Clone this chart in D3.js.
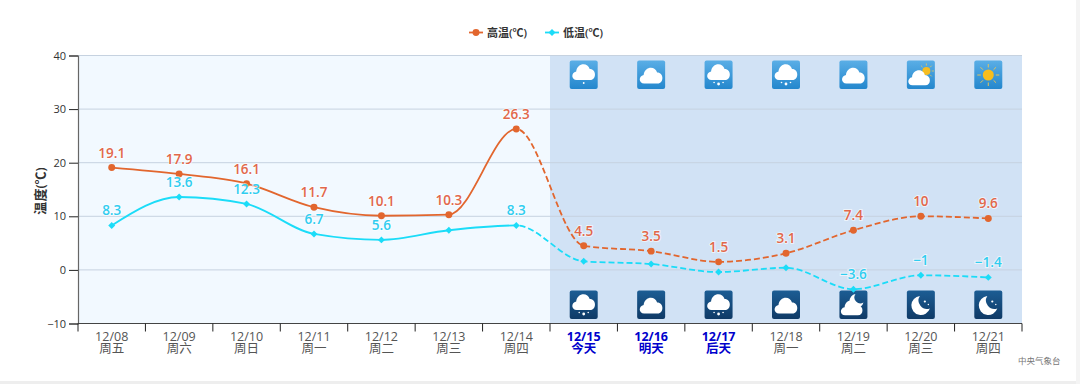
<!DOCTYPE html>
<html><head><meta charset="utf-8">
<script src="https://cdn.jsdelivr.net/npm/d3@7"></script>
<style>
html,body{margin:0;padding:0;background:#fff;overflow:hidden}
svg{display:block}
text{font-family:"Open Sans","Noto Sans CJK SC",sans-serif}
</style></head><body>
<svg id="c" width="1080" height="384"></svg>
<script>
const dates=["12/08","12/09","12/10","12/11","12/12","12/13","12/14","12/15","12/16","12/17","12/18","12/19","12/20","12/21"];
const weekdays=["周五","周六","周日","周一","周二","周三","周四","今天","明天","后天","周一","周二","周三","周四"];
const highs=[19.1,17.9,16.1,11.7,10.1,10.3,26.3,4.5,3.5,1.5,3.1,7.4,10,9.6];
const lows=[8.3,13.6,12.3,6.7,5.6,7.4,8.3,1.6,1.1,-0.4,0.4,-3.6,-1,-1.4];
const lowLabelIdx=[0,1,2,3,4,6,11,12,13];
const yTicks=[-10,0,10,20,30,40];
const dayIcons=["rain","cloud","snow","snow","cloud","partly","sun"];
const nightIcons=["snow","cloud","snow","cloud","partlyNight","moon","moon"];
const highColor="#e2662e", lowColor="#1bdcf8";
const highText="#e2674a", lowText="#30cdf0";

const svg=d3.select("#c");
const L=78,R=1022,T=55.5,B=323.5;
const y=d3.scaleLinear().domain([-10,40]).range([B,T]);
const xb=d3.scaleBand().domain(dates).range([L,R]);
const cx=d=>xb(d)+xb.bandwidth()/2;
const splitX=xb(dates[7]);

svg.append("rect").attr("x",0).attr("y",381).attr("width",1080).attr("height",3).attr("fill","#eeeeee");
svg.append("rect").attr("x",1076).attr("y",0).attr("width",4).attr("height",384).attr("fill","#f4f4f4");

svg.append("rect").attr("x",L).attr("y",T).attr("width",splitX-L).attr("height",B-T).attr("fill","#f2f9ff");
svg.append("rect").attr("x",splitX).attr("y",T).attr("width",R-splitX).attr("height",B-T).attr("fill","#d1e2f5");

svg.append("g").selectAll("line").data(yTicks.filter(t=>t>-10)).join("line")
 .attr("x1",L).attr("x2",R).attr("y1",d=>y(d)).attr("y2",d=>y(d))
 .attr("stroke","#c6d2e0").attr("stroke-width",1);

const gy=svg.append("g").attr("transform",`translate(${L},0)`)
 .call(d3.axisLeft(y).tickValues(yTicks).tickSize(9).tickPadding(3).tickFormat(d3.format("d")));
gy.select(".domain").attr("stroke","#666").attr("stroke-width",1.2);
gy.selectAll(".tick line").attr("stroke","#222");
gy.selectAll("text").attr("font-size",11).attr("fill","#333").style("font-family",'"Open Sans",sans-serif');

svg.append("text").attr("transform","translate(45,191) rotate(-90)").attr("text-anchor","middle")
 .attr("font-size",13).attr("font-weight",600).attr("fill","#333").text("温度(℃)");

const gx=svg.append("g").attr("transform",`translate(0,${B})`)
 .call(d3.axisBottom(xb).tickSize(0).tickFormat(""));
gx.select(".domain").remove();
gx.selectAll(".tick").remove();
gx.append("line").attr("x1",L).attr("x2",R).attr("stroke","#444").attr("stroke-width",1.2);
gx.selectAll("line.t").data(d3.range(dates.length+1)).join("line").attr("class","t")
 .attr("x1",i=>L+i*xb.step()).attr("x2",i=>L+i*xb.step()).attr("y1",0).attr("y2",8).attr("stroke","#222");
const lab=svg.append("g").selectAll("text").data(dates).join("text")
 .attr("text-anchor","middle").attr("x",cx)
 .attr("fill",(d,i)=>i>=7&&i<=9?"#0000cc":"#555")
 .attr("font-weight",(d,i)=>i>=7&&i<=9?700:400).attr("font-size",12.5);
lab.append("tspan").attr("x",cx).attr("y",340.5).text(d=>d);
lab.append("tspan").attr("x",cx).attr("y",353).text((d,i)=>weekdays[i]);

svg.append("text").attr("x",1018).attr("y",364).attr("font-size",8.5).attr("fill","#777").text("中央气象台");

const defs=svg.append("defs");
const gradDay=defs.append("linearGradient").attr("id","gd").attr("x1",0).attr("x2",0).attr("y1",0).attr("y2",1);
gradDay.append("stop").attr("offset",0).attr("stop-color","#5aaee6");
gradDay.append("stop").attr("offset",1).attr("stop-color","#2487cd");
const gradN=defs.append("linearGradient").attr("id","gn").attr("x1",0).attr("x2",0).attr("y1",0).attr("y2",1);
gradN.append("stop").attr("offset",0).attr("stop-color","#1c5d94");
gradN.append("stop").attr("offset",1).attr("stop-color","#0f3a66");

function cloud(g,dx,dy,s){
  const c=g.append("g").attr("transform",`translate(${dx},${dy}) scale(${s})`);
  c.append("path").attr("fill","#fff")
   .attr("d","M7,23 C1.5,23 1,15.5 6.5,14.5 C7,6 18,4.5 20,12 C27,12 27,23 20.5,23 Z");
}
function drawIcon(g,type,night){
  g.append("rect").attr("width",28).attr("height",28.5).attr("rx",2).attr("fill",night?"url(#gn)":"url(#gd)");
  if(type==="cloud"){cloud(g,0,0,1);}
  if(type==="rain"){cloud(g,0,-3.5,1);g.append("circle").attr("cx",14).attr("cy",22.5).attr("r",.9).attr("fill","#fff");}
  if(type==="snow"){cloud(g,0,-3.5,1);
    [[9.5,22,.8],[14,23.5,1.4],[18.5,22,.8]].forEach(p=>g.append("circle").attr("cx",p[0]).attr("cy",p[1]).attr("r",p[2]).attr("fill","#fff"));}
  if(type==="partly"){
    const sg=g.append("g");
    sg.append("circle").attr("cx",19.5).attr("cy",10.5).attr("r",4).attr("fill","#f5bd22");
    d3.range(8).forEach(k=>{const a=k*Math.PI/4;
      sg.append("line").attr("x1",19.5+5.4*Math.cos(a)).attr("y1",10.5+5.4*Math.sin(a))
       .attr("x2",19.5+7.6*Math.cos(a)).attr("y2",10.5+7.6*Math.sin(a)).attr("stroke","#e6c860").attr("stroke-width",.8);});
    cloud(g,-1,3,.95);
  }
  if(type==="sun"){
    g.append("circle").attr("cx",14).attr("cy",14.5).attr("r",5.5).attr("fill","#f7bd1c");
    d3.range(8).forEach(k=>{const a=k*Math.PI/4;
      g.append("line").attr("x1",14+7.5*Math.cos(a)).attr("y1",14.5+7.5*Math.sin(a))
       .attr("x2",14+11*Math.cos(a)).attr("y2",14.5+11*Math.sin(a)).attr("stroke","#e3c35a").attr("stroke-width",1);});
  }
  if(type==="moon"){
    g.append("path").attr("fill","#fff").attr("d","M13,5.5 A9.5,9.5 0 1 0 23,18 A8.5,8.5 0 0 1 13,5.5 Z");
    g.append("circle").attr("cx",18).attr("cy",11).attr("r",1.1).attr("fill","#fff");
    g.append("circle").attr("cx",21.5).attr("cy",14).attr("r",.7).attr("fill","#fff");
  }
  if(type==="partlyNight"){
    g.append("path").attr("fill","#fff").attr("d","M16,3.5 A7,7 0 1 0 24,12 A6,6 0 0 1 16,3.5 Z");
    cloud(g,-1,3,.95);
  }
}
dayIcons.forEach((t,i)=>{const d=dates[i+7];
  drawIcon(svg.append("g").attr("transform",`translate(${cx(d)-14},60.5)`),t,false);});
nightIcons.forEach((t,i)=>{const d=dates[i+7];
  drawIcon(svg.append("g").attr("transform",`translate(${cx(d)-14},290.5)`),t,true);});

const boundary=cx(dates[6]);
defs.append("clipPath").attr("id","solid").append("rect").attr("x",0).attr("y",0).attr("width",boundary).attr("height",384);
defs.append("clipPath").attr("id","dash").append("rect").attr("x",boundary).attr("y",0).attr("width",1080-boundary).attr("height",384);

const line=d3.line().x((d,i)=>cx(dates[i])).y(d=>y(d)).curve(d3.curveMonotoneX);
function series(vals,color){
  svg.append("path").attr("d",line(vals)).attr("fill","none").attr("stroke",color).attr("stroke-width",1.8).attr("clip-path","url(#solid)");
  svg.append("path").attr("d",line(vals)).attr("fill","none").attr("stroke",color).attr("stroke-width",1.8).attr("stroke-dasharray","6,3").attr("clip-path","url(#dash)");
}
series(highs,highColor);
series(lows,lowColor);
const sym=(t,s)=>d3.symbol().type(t).size(s)();
svg.append("g").selectAll("path").data(highs).join("path").attr("d",sym(d3.symbolCircle,38))
 .attr("transform",(d,i)=>`translate(${cx(dates[i])},${y(d)})`).attr("fill",highColor);
svg.append("g").selectAll("path").data(lows).join("path").attr("d",sym(d3.symbolSquare,24))
 .attr("transform",(d,i)=>`translate(${cx(dates[i])},${y(d)}) rotate(45)`).attr("fill",lowColor);

function labels(vals,color,idx){
  svg.append("g").selectAll("text").data(idx).join("text")
   .attr("x",i=>cx(dates[i])).attr("y",i=>y(vals[i])-10).attr("text-anchor","middle")
   .attr("font-size",13.5).attr("font-weight",600).attr("fill",color)
   .attr("stroke","#fff").attr("stroke-opacity",.6).attr("stroke-width",2).attr("paint-order","stroke")
   .text(i=>String(vals[i]).replace("-","−"));
}
labels(highs,highText,d3.range(highs.length));
labels(lows,lowText,lowLabelIdx);

const lg=svg.append("g");
[[469,"高温(℃)",highColor,d3.symbolCircle,38,0],[545,"低温(℃)",lowColor,d3.symbolSquare,24,45]].forEach(([x0,t,c,s,a,r])=>{
  lg.append("line").attr("x1",x0).attr("x2",x0+14).attr("y1",32.5).attr("y2",32.5).attr("stroke",c).attr("stroke-width",1.8);
  lg.append("path").attr("d",sym(s,a)).attr("transform",`translate(${x0+7},32.5) rotate(${r})`).attr("fill",c);
  lg.append("text").attr("x",x0+18).attr("y",36.5).attr("font-size",11).attr("font-weight",600).attr("fill","#333").text(t);
});
</script></body></html>
